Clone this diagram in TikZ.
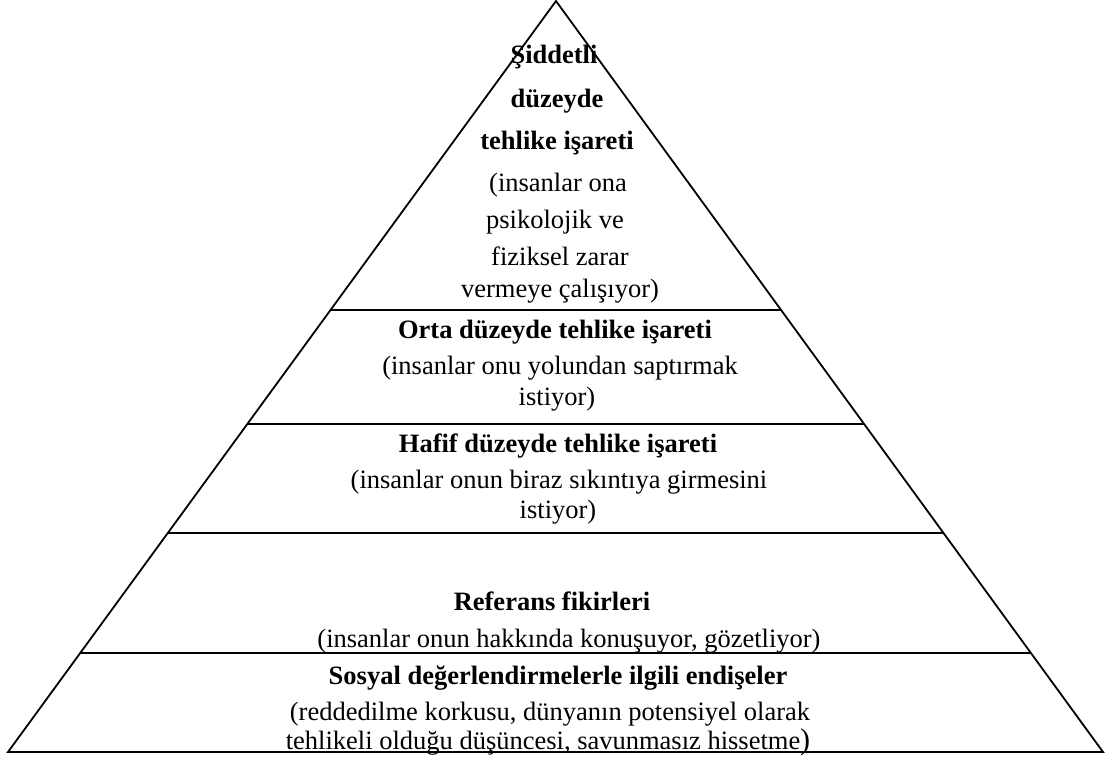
\documentclass[tikz,border=0pt]{standalone}
\usepackage{fontspec}
\setmainfont{Liberation Serif}
\usetikzlibrary{calc}
\tikzset{
  edgeline/.style={line width=1.8pt,line join=miter},
  levelhead/.style={font=\fontsize{26.5}{32}\selectfont\bfseries,anchor=base,inner sep=0pt},
  levelnote/.style={font=\fontsize{26.5}{32}\selectfont,anchor=base,inner sep=0pt}
}

\begin{document}
\begin{tikzpicture}[x=1pt,y=-1pt]
  \useasboundingbox (0,0) rectangle (1109,757);
  % pyramid outline and level separators
  \coordinate (apex) at (556,1);
  \coordinate (baseL) at (8,752);
  \coordinate (baseR) at (1103,752);
  \draw[edgeline] (apex) -- (baseL) -- (baseR) -- cycle;
  \foreach \f in {0.4115,0.5632,0.7084,0.8682}{
    \draw[edgeline] ($(apex)!\f!(baseL)$) -- ($(apex)!\f!(baseR)$);
  }
  % level 1 (top)
  \node[levelhead] (severeA) at (554,64) {Şiddetli};
  \node[levelhead] (severeB) at (557,108) {düzeyde};
  \node[levelhead] (severeC) at (557,150) {tehlike işareti};
  \node[levelnote] (severeD) at (558,192) {(insanlar ona};
  \node[levelnote] (severeE) at (555,228) {psikolojik ve};
  \node[levelnote] (severeF) at (560,265) {fiziksel zarar};
  \node[levelnote] (severeG) at (560,297) {vermeye çalışıyor)};
  % level 2
  \node[levelhead] (mediumA) at (555,338) {Orta düzeyde tehlike işareti};
  \node[levelnote] (mediumB) at (560,374) {(insanlar onu yolundan saptırmak};
  \node[levelnote] (mediumC) at (557,405) {istiyor)};
  % level 3
  \node[levelhead] (mildA) at (558,452) {Hafif düzeyde tehlike işareti};
  \node[levelnote] (mildB) at (559,488) {(insanlar onun biraz sıkıntıya girmesini};
  \node[levelnote] (mildC) at (558,518) {istiyor)};
  % level 4
  \node[levelhead] (refA) at (552,610) {Referans fikirleri};
  \node[levelnote] (refB) at (569,647) {(insanlar onun hakkında konuşuyor, gözetliyor)};
  % level 5 (base)
  \node[levelhead] (socialA) at (558,684) {Sosyal değerlendirmelerle ilgili endişeler};
  \node[levelnote] (socialB) at (550,720) {(reddedilme korkusu, dünyanın potensiyel olarak};
  \node[levelnote] (socialC) at (548,749) {tehlikeli olduğu düşüncesi, savunmasız hissetme{\fontsize{30}{30}\selectfont)}};
\end{tikzpicture}
\end{document}
